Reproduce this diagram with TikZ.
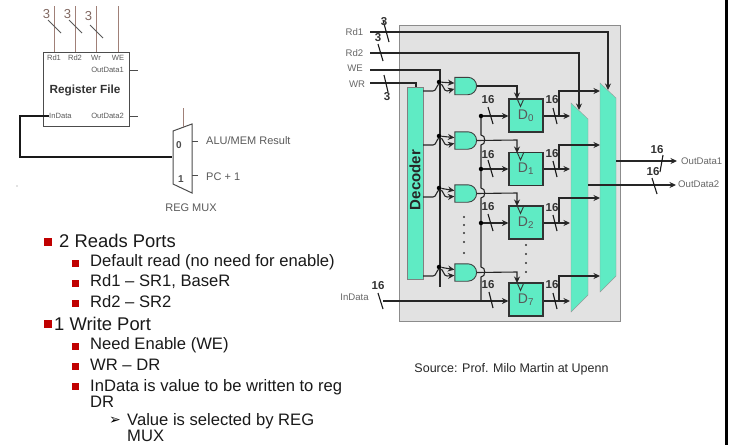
\documentclass[tikz,border=0pt]{standalone}
\usepackage{fontspec}
\setmainfont{Liberation Sans}
\newfontfamily\symfont{DejaVu Sans}
\usetikzlibrary{arrows.meta,shapes.gates.logic.US}
\definecolor{regcyan}{HTML}{5FEBC4}
\definecolor{boxgray}{HTML}{E2E2E2}
\definecolor{bulletred}{HTML}{C00000}
\definecolor{pinbrown}{HTML}{A08078}
\tikzset{
  wire/.style={line width=1.1pt, black!85},
  slashline/.style={black!90, line width=1.1pt},
  regbox/.style={draw=black!80, line width=1.1pt, fill=regcyan, minimum width=34pt, minimum height=33pt, inner sep=0pt, text=black!65, font=\fontsize{14}{14}\selectfont},
  andgate/.style={and gate US, draw=black!75, line width=0.9pt, fill=regcyan, logic gate inputs=nn, minimum width=17pt, minimum height=17pt, inner sep=0pt},
  dot/.style={circle, fill=black, inner sep=0pt, minimum size=4.5pt},
  buswidth/.style={font=\bfseries\fontsize{11.5}{12}\selectfont, text=black!80, inner sep=0pt},
  portlabel/.style={font=\fontsize{9.6}{10}\selectfont, text=black!60, inner sep=0pt},
  tinylabel/.style={font=\fontsize{7.6}{8}\selectfont, text=black!65, inner sep=0pt},
  sidelabel/.style={font=\fontsize{11}{11}\selectfont, text=black!65, inner sep=0pt},
  item/.style={anchor=west, inner sep=0pt, font=\fontsize{18.4}{18}\selectfont, align=left, text=black!90},
  subitem/.style={anchor=west, inner sep=0pt, font=\fontsize{16.6}{16}\selectfont, align=left, text=black!90},
  bigsquare/.style={fill=bulletred, inner sep=0pt, minimum size=8pt},
  smallsquare/.style={fill=bulletred, inner sep=0pt, minimum size=7pt}
}
\begin{document}
\begin{tikzpicture}[x=1pt, y=-1pt, >={Stealth[length=6.5pt,width=6pt]}]
\useasboundingbox (0,0) rectangle (734,445);

% page edge on the right
\fill[black] (724.5,0) rectangle (727.5,445);

% register file symbol
\node[draw=black!70, line width=1pt, minimum width=86pt, minimum height=74pt, inner sep=0pt] (regfile) at (86,89) {};
\node[inner sep=0pt, text=black!80, font=\bfseries\fontsize{11.8}{12}\selectfont] (regtitle) at (85,90) {Register File};
\foreach \name/\px/\txt in {rd/54/Rd1, rs/75/Rd2, wr/96/Wr, we/118/WE} {
  \coordinate (\name top) at (\px,6);
  \coordinate (\name pin) at (\px,52);
  \draw[pinbrown, line width=1pt] (\name top) -- (\name pin);
  \node[tinylabel] (\name label) at (\px,58) {\txt};
}
\foreach \name/\px/\py/\qy in {rd/54/14/20, rs/75/14/20, wr/96/16/25} {
  \draw[black!65, line width=0.9pt] (\px-6,\qy) -- (\px+7,\qy+13);
  \node[font=\fontsize{13}{13}\selectfont, text=pinbrown!80!black, inner sep=0pt] (\name width) at (\px-7.5,\py) {3};
}
\node[tinylabel, anchor=east] (outa) at (124,70) {OutData1};
\node[tinylabel, anchor=east] (outb) at (124,116) {OutData2};
\node[tinylabel, anchor=west] (inport) at (49,116) {InData};
\coordinate (outa end) at (138,70);
\coordinate (outb end) at (138,116);
\draw[black!70] (regfile.east |- outa end) -- (outa end);
\draw[black!70] (regfile.east |- outb end) -- (outb end);

% REG MUX symbol
\coordinate (ma) at (173,131);
\coordinate (mb) at (192,124);
\coordinate (mc) at (192,193);
\coordinate (md) at (173,184);
\draw[black!70, line width=1pt] (ma) -- (mb) -- (mc) -- (md) -- cycle;
\node[font=\bfseries\fontsize{10}{10}\selectfont, text=black!70, inner sep=0pt] (mzero) at (179,145) {0};
\node[font=\bfseries\fontsize{10}{10}\selectfont, text=black!70, inner sep=0pt] (mone) at (181,179) {1};
\coordinate (msel) at (183,108);
\draw[pinbrown, line width=1pt] (msel) -- (183,127);
\node[sidelabel, anchor=west] (alu) at (206,141) {ALU/MEM Result};
\node[sidelabel, anchor=west] (pcone) at (206,177) {PC + 1};
\node[sidelabel] (muxname) at (191,208) {REG MUX};
\draw[black!70] (192,141) -- (198,141);
\draw[black!70] (192,175) -- (198,175);
\draw[line width=1.8pt, black!90] (inport.west) -- (20,116) -- (20,157) -- (172,157);
\fill[black!50] (17,186) circle (0.7pt);

% decoder and storage
\fill[boxgray] (399,25) rectangle (620.5,321);
\draw[black!45, line width=0.8pt] (399,25) rectangle (620.5,321);
\node[draw=black!50, fill=regcyan, minimum width=16pt, minimum height=192pt, inner sep=0pt] (decoder) at (415,183) {};
\node[rotate=90, inner sep=0pt, font=\bfseries\fontsize{15}{15}\selectfont, text=black!85] (decname) at (415,180) {Decoder};

\node[regbox] (D0) at (526,115.5) {D\textsubscript{0}};
\node[regbox] (D1) at (526,169) {D\textsubscript{1}};
\node[regbox] (D2) at (526,222.5) {D\textsubscript{2}};
\node[regbox] (D7) at (526,299.5) {D\textsubscript{7}};
\foreach \r in {D0,D1,D2,D7}
  \draw[black!80, line width=0.9pt] ([xshift=-9pt]\r.north) -- ++(3.5,8) -- ++(3.5,-8);

\node[andgate] (and0) at (465,86) {};
\node[andgate] (and1) at (465,140.5) {};
\node[andgate] (and2) at (465,193.5) {};
\node[andgate] (and7) at (465,272.5) {};

% output muxes
\coordinate (la) at (571,103);
\coordinate (lb) at (588,119);
\coordinate (lc) at (588,295);
\coordinate (ld) at (571,312);
\coordinate (ra) at (600,83);
\coordinate (rb) at (616,98);
\coordinate (rc) at (616,276);
\coordinate (rd) at (600,292);
\draw[draw=black!40, fill=regcyan] (la) -- (lb) -- (lc) -- (ld) -- cycle;
\draw[draw=black!40, fill=regcyan] (ra) -- (rb) -- (rc) -- (rd) -- cycle;

% pin labels on the left of the box
\node[portlabel] (rdone) at (354.5,32) {Rd1};
\node[portlabel] (rdtwo) at (354.5,53) {Rd2};
\node[portlabel] (wename) at (355,68) {WE};
\node[portlabel] (wrname) at (357,84) {WR};
\node[portlabel] (indata) at (354.5,297) {InData};

% select lines
\coordinate (rdone tip) at (608,90);
\coordinate (rdtwo tip) at (579,110);
\draw[wire, ->] (370,32) -- (608,32) -- (rdone tip);
\draw[wire, ->] (370,53) -- (579,53) -- (rdtwo tip);
\coordinate (weend) at (440,287);
\draw[wire] (370,70) -- (440,70) -- (weend);
\draw[wire] (370,83) -- (416,83) -- (416,87);

% enable and decoder lines into the gates
\foreach \g/\py/\ax in {and0/91/82, and1/145/136, and2/197/188, and7/276/267} {
  \node[dot] (\g dot) at (439,\ax) {};
  \draw[wire, ->] (\g dot) -- (\g.input 1);
  \draw[wire, ->] (423,\py) -- (433,\py) .. controls (437,\py) and (436,\ax+2) .. (440,\ax+2) .. controls (444,\ax+2) and (443,\py) .. (447,\py) -- (\g.input 2);
}

% gate outputs to the clock pins
\draw[wire, ->] (and0.output) -- (517,86) -- (517,99);
\draw[wire, ->] (and1.output) -- (517,140) -- (517,153);
\draw[wire, ->] (and2.output) -- (517,193) -- (517,206);
\draw[wire, ->] (and7.output) -- (517,272) -- (517,283);

% data bus, it hops over the gate outputs
\draw[wire] (481,116) -- (481,135) .. controls (486,135) and (486,145) .. (481,145)
  -- (481,188) .. controls (486,188) and (486,198) .. (481,198)
  -- (481,267) .. controls (486,267) and (486,277) .. (481,277) -- (481,301);
\draw[wire, ->] (383,301) -- (D7.west |- 0,301);
\foreach \r/\py in {D0/116, D1/169, D2/223} {
  \node[dot] (\r bus) at (481,\py) {};
  \draw[wire, ->] (\r bus) -- (\r.west |- 0,\py);
  \draw[slashline] (488,\py-9) -- (493,\py+8);
}
\draw[slashline] (489,292) -- (493,308);
\draw[slashline] (378,293) -- (383,309);
\foreach \n/\px/\py in {a/488/100, b/488/155, c/488/207, d/488/285, e/552/100, f/552/154, g/552/208, h/552/285, i/378/286, j/657/150, k/653/172}
  \node[buswidth] (bus\n) at (\px,\py) {16};

% register outputs to the two muxes
\foreach \r/\py/\up in {D0/116/91, D1/169/145, D2/223/198, D7/301/276} {
  \draw[wire, ->] (\r.east |- 0,\py) -- (570,\py);
  \draw[wire, ->] (559,\py) -- (559,\up) -- (600,\up);
  \draw[slashline] (553,\py-8) -- (557,\py+8);
}
\coordinate (outone) at (677,161);
\coordinate (outtwo) at (676,185);
\draw[wire, ->] (616,161) -- (outone);
\draw[wire, ->] (588,185) -- (outtwo);
\draw[slashline] (660,172) -- (663,155);
\draw[slashline] (652,178) -- (657,194);
\node[portlabel, anchor=west] (outdone) at (681,161) {OutData1};
\node[portlabel, anchor=west] (outdtwo) at (678,184.5) {OutData2};

% slashes on the select lines
\draw[slashline] (383,20) -- (389,42);
\draw[slashline] (378,44) -- (383,61);
\draw[slashline] (384,75) -- (388,92);
\node[buswidth] (wthree) at (384,22) {3};
\node[buswidth] (wfour) at (378,38) {3};
\node[buswidth] (wfive) at (387,97) {3};

% dots between the rows
\foreach \py in {217,225,233,242,253}
  \fill[black!80] (464,\py) circle (1.1pt);
\foreach \py in {245,254,263,272}
  \fill[black!80] (526,\py) circle (1.1pt);

% bullet list
\foreach \name/\py in {ba/242, bb/324}
  \node[bigsquare] (\name) at (48,\py) {};
\foreach \name/\py in {sa/263, sb/283, sc/303, sd/346, se/366, sf/386}
  \node[smallsquare] (\name) at (75,\py) {};
\node[item] (reads) at (59,241) {2 Reads Ports};
\node[subitem] (defread) at (90,262) {Default read (no need for enable)};
\node[subitem] (rdonetxt) at (90,282) {Rd1 – SR1, BaseR};
\node[subitem] (rdtwotxt) at (90,302) {Rd2 – SR2};
\node[item] (writep) at (54,324) {1 Write Port};
\node[subitem] (needen) at (90,345) {Need Enable (WE)};
\node[subitem] (wrdr) at (90,365) {WR – DR};
\node[subitem] (indatatxt) at (90,393.7) {InData is value to be written to reg\\DR};
\node[font=\symfont\fontsize{14}{14}\selectfont, inner sep=0pt] (vmark) at (115,421) {➢};
\node[subitem] (valtxt) at (127,428) {Value is selected by REG\\MUX};

\node[font=\fontsize{12.5}{13}\selectfont, text=black!85, inner sep=0pt] (source) at (511.5,369) {Source: Prof. Milo Martin at Upenn};

\end{tikzpicture}
\end{document}
